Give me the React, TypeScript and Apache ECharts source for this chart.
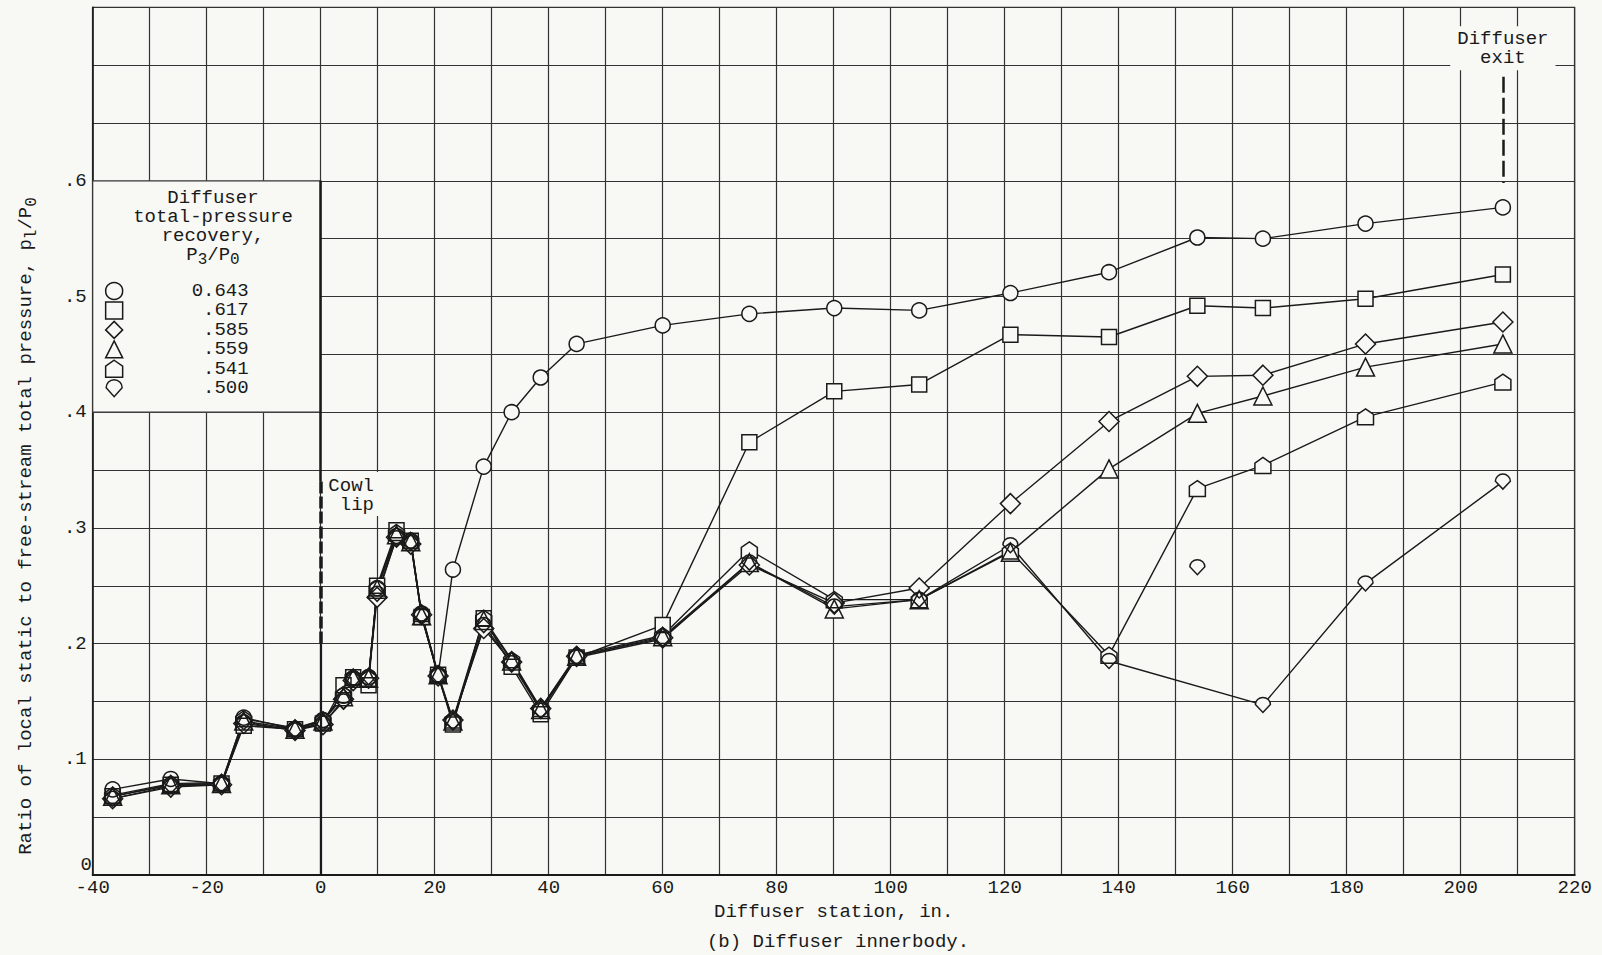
import { useEffect, useRef } from 'react';
import * as echarts from 'echarts';

// ---------- data ----------
const stations = [-36.5, -26.3, -17.4, -13.5, -4.5, 0.4, 4.0, 5.7, 8.4, 9.9, 13.3, 15.8, 17.7, 20.6, 23.2, 28.6, 33.5, 38.6, 44.9, 60.0, 75.2, 90.1, 105.0, 121.0, 138.3, 153.8, 165.3, 183.3, 207.4];

const rec0643 = [0.074, 0.083, 0.079, 0.136, 0.126, 0.134, 0.155, 0.170, 0.171, 0.248, 0.293, 0.289, 0.226, 0.173, 0.264, 0.353, 0.400, 0.430, 0.459, 0.475, 0.485, 0.490, 0.488, 0.503, 0.521, 0.551, 0.550, 0.563, 0.577];
const rec0617 = [0.068, 0.078, 0.079, 0.129, 0.126, 0.131, 0.164, 0.171, 0.164, 0.250, 0.298, 0.289, 0.223, 0.173, 0.130, 0.222, 0.180, 0.139, 0.188, 0.216, 0.374, 0.418, 0.424, 0.467, 0.465, 0.492, 0.490, 0.498, 0.519];
const rec0585 = [0.066, 0.076, 0.078, 0.131, 0.125, 0.130, 0.152, 0.168, 0.170, 0.240, 0.292, 0.286, 0.225, 0.172, 0.134, 0.213, 0.184, 0.144, 0.189, 0.205, 0.268, 0.235, 0.248, 0.321, 0.392, 0.431, 0.432, 0.459, 0.478];
const rec0559 = [0.068, 0.078, 0.079, 0.133, 0.126, 0.133, 0.154, 0.170, 0.170, 0.247, 0.294, 0.288, 0.224, 0.173, 0.133, 0.220, 0.185, 0.143, 0.189, 0.206, 0.270, 0.230, 0.238, 0.279, 0.351, 0.399, 0.414, 0.439, 0.459];
const rec0541 = [0.069, 0.079, 0.080, 0.135, 0.127, 0.134, 0.156, 0.171, 0.170, 0.248, 0.296, 0.289, 0.226, 0.174, 0.134, 0.222, 0.186, 0.144, 0.190, 0.207, 0.281, 0.238, 0.238, 0.280, 0.190, 0.334, 0.354, 0.396, 0.426];
const rec0500 = [0.066, 0.077, 0.078, 0.132, 0.125, 0.131, 0.150, 0.169, 0.171, 0.243, 0.291, 0.287, 0.224, 0.172, 0.132, 0.216, 0.183, 0.142, 0.188, 0.204, 0.270, 0.232, 0.238, 0.285, 0.185, null, 0.147, 0.252, 0.340];
// point plotted but not on the faired curve
const rec0500UnfairedStations = [153.8];
const rec0500UnfairedValues = [0.266];

const recoveryLabels = ['0.643', '.617', '.585', '.559', '.541', '.500'];

// ---------- styles ----------
const PAPER = '#f8f8f5';
const INK = '#1a1a1a';
const GRIDC = '#333333';
const FONT = '"Liberation Mono", "DejaVu Sans Mono", monospace';
const FS = 19;

const PENTAGON = 'path://M0,-10L10,-3L10,10L-10,10L-10,-3Z';
const DROP = 'path://M-8,0A8,8 0 0 1 8,0L0,9Z';

const defs = [
  { name: recoveryLabels[0], values: rec0643, symbol: 'circle', size: 15 },
  { name: recoveryLabels[1], values: rec0617, symbol: 'rect', size: 15 },
  { name: recoveryLabels[2], values: rec0585, symbol: 'diamond', size: 20 },
  { name: recoveryLabels[3], values: rec0559, symbol: 'triangle', size: 18 },
  { name: recoveryLabels[4], values: rec0541, symbol: PENTAGON, size: 16 },
  { name: recoveryLabels[5], values: rec0500, symbol: DROP, size: 15,
    extraX: rec0500UnfairedStations, extraY: rec0500UnfairedValues },
];

function pairs(xs: number[], ys: (number | null)[]) {
  const out: number[][] = [];
  xs.forEach((x, i) => { if (ys[i] != null) out.push([x, ys[i] as number]); });
  return out;
}

export default function App() {
  const ref = useRef<HTMLDivElement>(null);
  useEffect(() => {
    const chart = echarts.init(ref.current!, undefined, { renderer: 'svg' });

    const lineSeries = defs.map((d) => ({
      type: 'line', name: 'line ' + d.name, data: pairs(stations, d.values),
      showSymbol: false, symbol: 'none', silent: true, z: 2,
      lineStyle: { color: INK, width: 1.4 },
    }));
    const pts = (d: any) => {
      const p = pairs(stations, d.values);
      if (d.extraX) p.push(...pairs(d.extraX, d.extraY));
      return p;
    };
    const fillSeries = defs.map((d) => ({
      type: 'scatter', name: 'fill ' + d.name, data: pts(d), symbol: d.symbol,
      symbolSize: d.size, silent: true, z: 3,
      itemStyle: { color: PAPER, borderWidth: 0, opacity: 1 },
    }));
    const outlineSeries = defs.map((d) => ({
      type: 'scatter', name: d.name, data: pts(d), symbol: d.symbol,
      symbolSize: d.size, silent: true, z: 4,
      itemStyle: { color: 'rgba(0,0,0,0)', borderColor: INK, borderWidth: 1.5, opacity: 1 },
    }));

    const frameSeries = {
      type: 'scatter', name: 'frame', data: [], silent: true, z: 1,
      markArea: {
        silent: true, label: { show: false },
        itemStyle: { color: PAPER, borderColor: GRIDC, borderWidth: 1.2, opacity: 1 },
        data: [[{ coord: [-40, 0.4] }, { coord: [0, 0.6] }]],
      },
      markLine: {
        silent: true, symbol: ['none', 'none'], label: { show: false },
        data: [
          [{ coord: [0, 0.6], lineStyle: { color: INK, width: 2.5, type: 'solid' } }, { coord: [0, 0.34] }],
          [{ coord: [0, 0.34], lineStyle: { color: INK, width: 3.5, type: [12, 3] } }, { coord: [0, 0.2] }],
          [{ coord: [0, 0.2], lineStyle: { color: INK, width: 2.2, type: 'solid' } }, { coord: [0, 0] }],
          [{ coord: [207.4, 0.69], lineStyle: { color: INK, width: 2.5, type: [16, 5] } }, { coord: [207.4, 0.598] }],
        ],
      },
    };

    const option: any = {
      animation: false,
      backgroundColor: PAPER,
      textStyle: { fontFamily: FONT, color: INK },
      grid: { left: 92.7, right: 27.3, top: 7.25, bottom: 80, show: true, borderColor: GRIDC, borderWidth: 1.2, containLabel: false },
      xAxis: {
        type: 'value', min: -40, max: 220, interval: 10,
        axisLine: { show: true, onZero: false, lineStyle: { color: INK, width: 2 } },
        axisTick: { show: false },
        axisLabel: {
          margin: 4, fontFamily: FONT, fontSize: FS, color: INK, lineHeight: 18,
          formatter: (v: number) => { const r = Math.round(v); return r % 20 === 0 ? String(r) : ''; },
        },
        splitLine: { show: true, lineStyle: { color: GRIDC, width: 1.2 } },
        name: 'Diffuser station, in.', nameLocation: 'middle', nameGap: 19,
        nameTextStyle: { fontFamily: FONT, fontSize: FS, color: INK },
      },
      yAxis: {
        type: 'value', min: 0, max: 0.75, interval: 0.05,
        axisLine: { show: true, onZero: false, lineStyle: { color: INK, width: 1.5 } },
        axisTick: { show: false },
        axisLabel: {
          margin: 6, fontFamily: FONT, fontSize: FS, color: INK,
          formatter: (v: number) => {
            const r = Math.round(v * 100);
            if (r % 10 !== 0 || r > 60 || r === 0) return '';
            return '.' + r / 10;
          },
        },
        splitLine: { show: true, lineStyle: { color: GRIDC, width: 1.2 } },
      },
      legend: {
        orient: 'vertical', left: 104.9, top: 281.5, padding: 0,
        itemWidth: 17, itemHeight: 17, itemGap: 0.44,
        selectedMode: false,
        itemStyle: { color: PAPER, borderColor: INK, borderWidth: 1.5 },
        data: defs.map((d) => ({ name: d.name, icon: d.symbol, itemStyle: { color: PAPER, borderColor: INK, borderWidth: 1.5 } })),
        formatter: (name: string) => '{v|' + name + '}',
        textStyle: {
          fontFamily: FONT, fontSize: FS, color: INK, lineHeight: 17,
          rich: { v: { width: 121, align: 'right', fontFamily: FONT, fontSize: FS, color: INK, lineHeight: 17 } },
        },
      },
      series: [frameSeries, ...lineSeries, ...fillSeries, ...outlineSeries],
    };
    chart.setOption(option);

    const px = (x: number, y: number) => chart.convertToPixel({ gridIndex: 0 }, [x, y]) as number[];
    const [exitX, exitTop] = px(207.4, 0.7335);
    const [cowlX, cowlTop] = px(10.4, 0.3483);
    const [legX, legTop] = px(-18.9, 0.5931);
    const [zeroX, zeroY] = px(-40, 0.0085);

    const txt = { fontFamily: FONT, fontSize: FS, fill: INK };
    chart.setOption({
      graphic: [
        {
          type: 'text', x: 26, y: 526, rotation: Math.PI / 2, z: 10,
          style: {
            ...txt, text: 'Ratio of local static to free-stream total pressure, {i|p}{s|l}{i|/P}{s|0}',
            align: 'center', verticalAlign: 'middle', textAlign: 'center', textVerticalAlign: 'middle', lineHeight: 22,
            rich: {
              i: { ...txt, lineHeight: 22 },
              s: { fontFamily: FONT, fontSize: 16, fill: INK, lineHeight: 10, padding: [12, 0, 0, 0] },
            },
          },
        },
        {
          type: 'text', x: legX, y: legTop, z: 10,
          style: {
            ...txt, text: 'Diffuser\ntotal-pressure\nrecovery,\n{i|P}{s|3}{i|/P}{s|0}',
            align: 'center', verticalAlign: 'top', textAlign: 'center', textVerticalAlign: 'top', lineHeight: 19,
            rich: {
              i: { ...txt, lineHeight: 19 },
              s: { fontFamily: FONT, fontSize: 16, fill: INK, lineHeight: 9, padding: [10, 0, 0, 0] },
            },
          },
        },
        {
          type: 'text', x: exitX, y: exitTop, z: 10,
          style: {
            ...txt, text: 'Diffuser\nexit', align: 'center', verticalAlign: 'top', textAlign: 'center', textVerticalAlign: 'top',
            lineHeight: 19, backgroundColor: PAPER, padding: [3, 7, 3, 7],
          },
        },
        {
          type: 'text', x: cowlX, y: cowlTop, z: 10,
          style: {
            ...txt, text: 'Cowl\nlip', align: 'right', verticalAlign: 'top', textAlign: 'right', textVerticalAlign: 'top',
            lineHeight: 19, backgroundColor: PAPER, padding: [4, 6, 2, 4],
          },
        },
        {
          // y-axis zero label, nudged up as in the original so it clears "-40"
          type: 'text', x: zeroX - 6.5, y: zeroY, z: 10,
          style: { ...txt, text: '0', align: 'center', verticalAlign: 'middle', textAlign: 'center', textVerticalAlign: 'middle', lineHeight: 14 },
        },
        {
          type: 'text', x: 838, y: 942, z: 10,
          style: { ...txt, text: '(b) Diffuser innerbody.', align: 'center', verticalAlign: 'middle', textAlign: 'center', textVerticalAlign: 'middle' },
        },
      ],
    });

    return () => chart.dispose();
  }, []);
  return <div ref={ref} style={{ position: 'fixed', left: 0, top: 0, width: 1602, height: 955, background: PAPER }} />;
}
